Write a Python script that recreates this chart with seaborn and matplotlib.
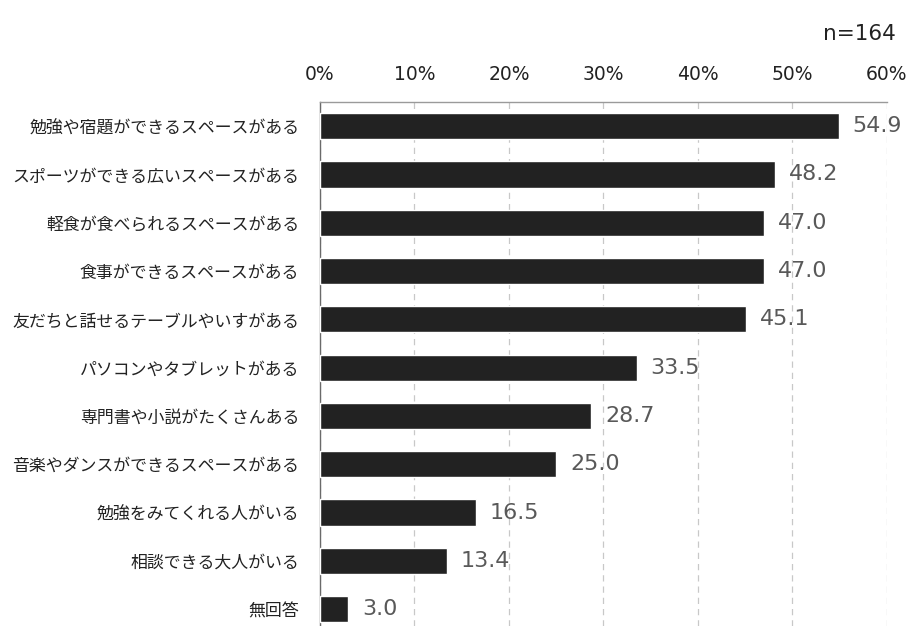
import matplotlib
matplotlib.use("Agg")
import matplotlib.pyplot as plt
import seaborn as sns
import pandas as pd
from matplotlib.ticker import FuncFormatter

# 項目と割合(%)
items = [
    "勉強や宿題ができるスペースがある",
    "スポーツができる広いスペースがある",
    "軽食が食べられるスペースがある",
    "食事ができるスペースがある",
    "友だちと話せるテーブルやいすがある",
    "パソコンやタブレットがある",
    "専門書や小説がたくさんある",
    "音楽やダンスができるスペースがある",
    "勉強をみてくれる人がいる",
    "相談できる大人がいる",
    "無回答",
]
values = [54.9, 48.2, 47.0, 47.0, 45.1, 33.5, 28.7, 25.0, 16.5, 13.4, 3.0]
x_ticks = [0, 10, 20, 30, 40, 50, 60]
n_label = "n=164"

sns.set_theme(style="white")
plt.rcParams["font.family"] = ["Noto Sans CJK JP", "DejaVu Sans"]

df = pd.DataFrame({"item": items, "value": values})

fig = plt.figure(figsize=(9.1, 6.26), dpi=100)
ax = fig.add_axes([0.3516, 0.0, 0.6231, 0.837])

sns.barplot(data=df, x="value", y="item", color="#222222", width=0.54,
            saturation=1, ax=ax, zorder=3)

ax.set_xlim(0, 60)
ax.set_ylim(10.35, -0.5)
ax.set_xticks(x_ticks)
ax.xaxis.set_major_formatter(FuncFormatter(lambda v, p: f"{v:.0f}%"))
ax.xaxis.tick_top()
ax.tick_params(axis="x", top=True, length=0, pad=13, labelcolor="#222222")
for lab in ax.get_xticklabels():
    lab.set_fontfamily(["DejaVu Sans"])
    lab.set_fontsize(13.5)
ax.tick_params(axis="y", left=False, length=0, pad=15, labelsize=12.2, labelcolor="#222222")
ax.set_xlabel("")
ax.set_ylabel("")

ax.grid(axis="x", color="#c8c8c8", linestyle=(0, (5, 4)), linewidth=0.9, zorder=0)
for s in ["right", "bottom"]:
    ax.spines[s].set_visible(False)
ax.spines["top"].set_color("#9a9a9a")
ax.spines["left"].set_color("#6a6a6a")
ax.spines["top"].set_linewidth(1.0)
ax.spines["left"].set_linewidth(1.0)

for i, v in enumerate(values):
    ax.annotate(f"{v:.1f}", xy=(v, i), xytext=(10, 0), textcoords="offset points",
                ha="left", va="center", fontsize=16, color="#595959",
                family=["DejaVu Sans"])

fig.text(0.985, 0.945, n_label, ha="right", va="center", fontsize=15.5, color="#222222",
         family=["DejaVu Sans"])

fig.savefig("out.png", dpi=100)
